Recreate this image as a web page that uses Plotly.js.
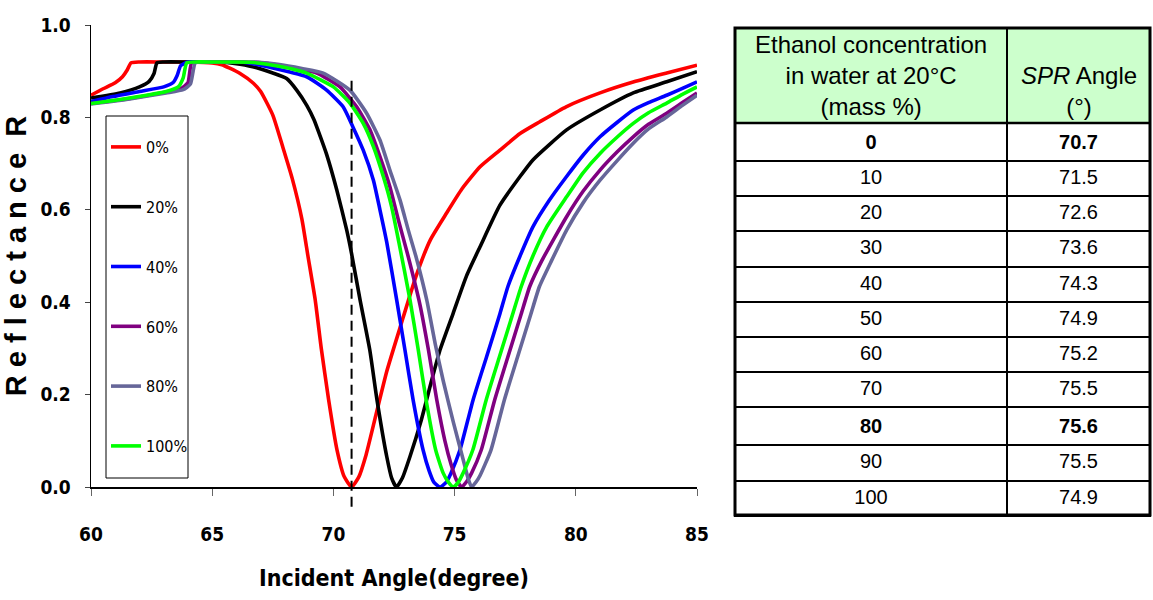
<!DOCTYPE html>
<html>
<head>
<meta charset="utf-8">
<script src="https://cdn.plot.ly/plotly-3.0.1.min.js"></script>
<style>
  html, body { margin: 0; padding: 0; background: #ffffff; }
  #chart { width: 1153px; height: 600px; }
</style>
</head>
<body>
<div id="chart"></div>
<script>
// SPR reflectance curves for ethanol/water mixtures, incident angle in degrees
const angle0 = [60, 60.5, 61.0, 61.3, 61.5, 61.65, 62.0, 63.0, 64.0, 65.0, 65.4, 65.7, 66.15, 66.7, 67.0, 67.5, 67.9, 68.3, 68.7, 68.95, 69.25, 69.5, 69.8, 70.15, 70.45, 70.75, 71.05, 71.35, 71.75, 72.2, 72.75, 73.4, 74.0, 74.67, 75.3, 76.05, 76.87, 77.7, 78.5, 79.6, 81.0, 82.4, 83.75, 85.0];
const refl0  = [0.848, 0.862, 0.875, 0.888, 0.903, 0.918, 0.920, 0.920, 0.920, 0.918, 0.914, 0.907, 0.895, 0.874, 0.856, 0.805, 0.738, 0.668, 0.580, 0.500, 0.405, 0.300, 0.190, 0.080, 0.022, 0.000, 0.022, 0.070, 0.155, 0.250, 0.345, 0.455, 0.535, 0.593, 0.645, 0.693, 0.729, 0.765, 0.790, 0.823, 0.853, 0.877, 0.896, 0.913];

const angle20 = [60, 61.2, 62.0, 62.4, 62.6, 62.72, 63.0, 64.0, 65.0, 65.6, 66.15, 66.8, 67.5, 68.07, 68.5, 68.9, 69.2, 69.45, 69.72, 70.14, 70.55, 70.75, 71.1, 71.5, 71.8, 72.2, 72.4, 72.6, 72.85, 73.16, 73.6, 74.06, 74.4, 74.94, 75.5, 76.05, 76.87, 77.7, 78.23, 79.62, 81.0, 82.37, 83.75, 85.0];
const refl20  = [0.842, 0.853, 0.866, 0.878, 0.895, 0.918, 0.920, 0.920, 0.920, 0.919, 0.915, 0.908, 0.896, 0.884, 0.858, 0.826, 0.795, 0.760, 0.720, 0.643, 0.556, 0.505, 0.405, 0.297, 0.188, 0.066, 0.020, 0.000, 0.020, 0.066, 0.140, 0.232, 0.297, 0.376, 0.458, 0.520, 0.610, 0.672, 0.708, 0.773, 0.816, 0.853, 0.877, 0.899];

const angle40 = [60, 60.9, 62.0, 63.0, 63.4, 63.55, 63.7, 64.0, 65.0, 66.0, 66.5, 67.0, 67.5, 68.2, 68.9, 69.72, 70.4, 70.8, 71.23, 71.65, 71.92, 72.2, 72.61, 72.95, 73.29, 73.7, 73.95, 74.15, 74.4, 74.65, 74.85, 75.22, 75.76, 76.32, 76.87, 77.2, 77.7, 78.23, 78.9, 79.62, 80.3, 81.0, 81.7, 82.37, 83.0, 83.75, 84.4, 85.0];
const refl40  = [0.834, 0.845, 0.856, 0.866, 0.876, 0.890, 0.912, 0.920, 0.920, 0.920, 0.918, 0.913, 0.907, 0.898, 0.888, 0.859, 0.823, 0.780, 0.729, 0.664, 0.600, 0.530, 0.405, 0.297, 0.188, 0.080, 0.035, 0.010, 0.000, 0.010, 0.030, 0.080, 0.188, 0.282, 0.375, 0.434, 0.500, 0.563, 0.620, 0.672, 0.718, 0.758, 0.789, 0.816, 0.832, 0.848, 0.863, 0.877];

const angle60 = [60, 61.6, 63.1, 63.7, 64.0, 64.15, 64.5, 65.0, 66.0, 66.8, 67.5, 68.5, 69.31, 70.27, 70.96, 71.51, 71.92, 72.33, 72.68, 73.08, 73.57, 73.92, 74.26, 74.6, 74.85, 75.08, 75.29, 75.5, 75.7, 76.1, 76.65, 77.2, 77.75, 78.1, 78.6, 79.62, 80.3, 81.0, 81.7, 82.37, 83.0, 83.75, 84.4, 85.0];
const refl60  = [0.830, 0.841, 0.855, 0.862, 0.875, 0.918, 0.920, 0.920, 0.920, 0.919, 0.915, 0.905, 0.896, 0.866, 0.823, 0.773, 0.715, 0.650, 0.578, 0.500, 0.395, 0.297, 0.190, 0.100, 0.050, 0.015, 0.000, 0.012, 0.030, 0.080, 0.188, 0.282, 0.375, 0.434, 0.490, 0.585, 0.640, 0.686, 0.725, 0.758, 0.785, 0.809, 0.832, 0.853];

const angle80 = [60, 61.6, 63.1, 63.8, 64.1, 64.3, 64.6, 65.0, 66.0, 66.9, 67.7, 68.7, 69.58, 70.68, 71.37, 71.92, 72.33, 72.75, 73.09, 73.4, 73.85, 74.2, 74.53, 74.95, 75.36, 75.55, 75.7, 75.9, 76.05, 76.5, 77.05, 77.6, 78.15, 78.5, 79.0, 79.62, 80.3, 81.0, 81.7, 82.37, 83.0, 83.75, 84.4, 85.0];
const refl80  = [0.829, 0.840, 0.853, 0.860, 0.872, 0.918, 0.920, 0.920, 0.920, 0.919, 0.915, 0.906, 0.896, 0.859, 0.809, 0.751, 0.686, 0.621, 0.556, 0.500, 0.405, 0.310, 0.230, 0.140, 0.058, 0.020, 0.000, 0.012, 0.025, 0.080, 0.188, 0.282, 0.375, 0.434, 0.490, 0.556, 0.615, 0.664, 0.706, 0.744, 0.775, 0.801, 0.826, 0.848];

const angle100 = [60, 61.6, 63.1, 63.6, 63.8, 63.95, 64.3, 65.0, 66.0, 66.7, 67.5, 68.3, 68.9, 70.0, 70.68, 71.23, 71.65, 72.06, 72.4, 72.7, 73.16, 73.5, 73.85, 74.22, 74.53, 74.75, 74.95, 75.15, 75.35, 75.75, 76.3, 76.85, 77.4, 77.75, 78.23, 78.8, 79.62, 80.3, 81.0, 81.7, 82.37, 83.0, 83.75, 84.4, 85.0];
const refl100  = [0.830, 0.842, 0.856, 0.866, 0.885, 0.918, 0.920, 0.920, 0.920, 0.919, 0.913, 0.905, 0.896, 0.866, 0.831, 0.787, 0.737, 0.672, 0.607, 0.530, 0.405, 0.297, 0.180, 0.080, 0.030, 0.010, 0.000, 0.010, 0.030, 0.080, 0.188, 0.282, 0.375, 0.434, 0.500, 0.563, 0.628, 0.680, 0.722, 0.757, 0.787, 0.810, 0.831, 0.850, 0.866];

const seriesNames  = ['0%', '20%', '40%', '60%', '80%', '100%'];
const seriesColors = ['#ff0000', '#000000', '#0000ff', '#800080', '#666699', '#00ff00'];
const seriesAngles = [angle0, angle20, angle40, angle60, angle80, angle100];
const seriesRefl   = [refl0, refl20, refl40, refl60, refl80, refl100];

// SPR angle of pure water, marked with a dashed guide
const waterDipAngle = 70.75;

const angleTicks = [60, 65, 70, 75, 80, 85];
const reflTicks  = [0, 0.2, 0.4, 0.6, 0.8, 1.0];

// Table: SPR angle vs ethanol concentration
const concentration = [0, 10, 20, 30, 40, 50, 60, 70, 80, 90, 100];
const sprAngle = ['70.7', '71.5', '72.6', '73.6', '74.3', '74.9', '75.2', '75.5', '75.6', '75.5', '74.9'];
const boldRows = [0, 8];
const headerConc  = 'Ethanol concentration<br>in water at 20°C<br>(mass %)';
const headerAngle = '<i>SPR</i> Angle<br>(°)';

const W = 1153, H = 600;
const px = v => v / W;
const py = v => 1 - v / H;

// table frame (page pixels)
const tblLeft = 735, tblRight = 1150, tblTop = 28, tblHeadBottom = 123, tblBottom = 515, tblSplit = 1007;

const condensed = 'DejaVu Sans Condensed, Liberation Sans Narrow, Arial Narrow, sans-serif';
const arialLike = 'Liberation Sans, Arial, Helvetica, sans-serif';

const traces = seriesNames.map((name, i) => ({
  type: 'scatter',
  mode: 'lines',
  name: name,
  legendgroup: 'g' + i,
  x: seriesAngles[i],
  y: seriesRefl[i],
  line: { color: seriesColors[i], width: 3.6, shape: 'spline', smoothing: 0.5 },
  hoverinfo: 'x+y+name'
}));

const cellText = [
  concentration.map((c, r) => boldRows.includes(r) ? '<b>' + c + '</b>' : String(c)),
  sprAngle.map((a, r) => boldRows.includes(r) ? '<b>' + a + '</b>' : a)
];

// header cells carry the fill and borders; their wrapped captions are laid over as annotations
traces.push({
  type: 'table',
  domain: { x: [px(tblLeft), px(tblRight)], y: [0.0, py(tblTop)] },
  columnwidth: [tblSplit - tblLeft, tblRight - tblSplit],
  header: {
    values: ['', ''],
    height: tblHeadBottom - tblTop,
    fill: { color: '#ccffcc' },
    line: { color: '#000000', width: 2 },
    font: { family: arialLike, size: 20, color: '#000000' }
  },
  cells: {
    values: cellText,
    align: 'center',
    height: 35.2,
    fill: { color: '#ffffff' },
    line: { color: '#000000', width: 2 },
    font: { family: arialLike, size: 20, color: '#000000' }
  }
});

const layout = {
  width: W,
  height: H,
  margin: { l: 0, r: 0, t: 0, b: 0 },
  paper_bgcolor: '#ffffff',
  plot_bgcolor: '#ffffff',
  showlegend: true,
  legend: {
    x: px(106), y: py(130), xanchor: 'left', yanchor: 'top',
    bgcolor: 'rgba(0,0,0,0)',
    borderwidth: 0,
    font: { family: condensed, size: 16, color: '#000000' },
    tracegroupgap: 36,
    itemwidth: 30
  },
  xaxis: {
    domain: [px(91), px(697)],
    range: [60, 85],
    tickvals: angleTicks,
    ticktext: angleTicks.map(String),
    ticks: 'outside',
    ticklen: 7,
    tickwidth: 1,
    tickcolor: '#666666',
    showline: true,
    linecolor: '#000000',
    linewidth: 1.5,
    showgrid: false,
    zeroline: false,
    ticklabelstandoff: 23,
    tickfont: { family: condensed, size: 19, color: '#000000', weight: 'bold' },
    title: {
      text: 'Incident Angle(degree)',
      standoff: 25,
      font: { family: condensed, size: 23, color: '#000000', weight: 'bold' }
    }
  },
  yaxis: {
    domain: [py(487), py(25)],
    range: [0, 1],
    tickvals: reflTicks,
    ticktext: reflTicks.map(v => v.toFixed(1)),
    ticks: 'outside',
    ticklen: 5,
    tickwidth: 1,
    tickcolor: '#444444',
    showline: true,
    linecolor: '#000000',
    linewidth: 1.5,
    showgrid: false,
    zeroline: false,
    ticklabelstandoff: 10,
    tickfont: { family: condensed, size: 19, color: '#000000', weight: 'bold' },
    title: {
      text: 'R e f l e c t a n c e \u00a0R',
      standoff: 8,
      font: { family: arialLike, size: 29, color: '#000000', weight: 'bold' }
    }
  },
  annotations: [
    {
      xref: 'paper', yref: 'paper',
      x: px((tblLeft + tblSplit) / 2), y: py((tblTop + tblHeadBottom) / 2),
      xanchor: 'center', yanchor: 'middle', align: 'center',
      text: headerConc, showarrow: false,
      font: { family: arialLike, size: 24, color: '#000000' }
    },
    {
      xref: 'paper', yref: 'paper',
      x: px((tblSplit + tblRight) / 2), y: py(91),
      xanchor: 'center', yanchor: 'middle', align: 'center',
      text: headerAngle, showarrow: false,
      font: { family: arialLike, size: 24, color: '#000000' }
    }
  ],
  shapes: [
    {
      type: 'line', xref: 'x', yref: 'y domain',
      x0: waterDipAngle, x1: waterDipAngle, y0: -0.043, y1: 0.88,
      line: { color: '#000000', width: 2, dash: '10px,6px' },
      layer: 'above'
    },
    // legend frame
    {
      type: 'rect', xref: 'paper', yref: 'paper',
      x0: px(106), x1: px(188), y0: py(478), y1: py(116),
      line: { color: '#000000', width: 1 },
      fillcolor: 'rgba(0,0,0,0)',
      layer: 'above'
    },
    // heavier rule under the header and around the whole table
    {
      type: 'line', xref: 'paper', yref: 'paper',
      x0: px(tblLeft), x1: px(tblRight), y0: py(tblHeadBottom), y1: py(tblHeadBottom),
      line: { color: '#000000', width: 2.5 },
      layer: 'above'
    },
    {
      type: 'rect', xref: 'paper', yref: 'paper',
      x0: px(tblLeft), x1: px(tblRight), y0: py(tblBottom), y1: py(tblTop),
      line: { color: '#000000', width: 3 },
      fillcolor: 'rgba(0,0,0,0)',
      layer: 'above'
    }
  ]
};

Plotly.newPlot('chart', traces, layout, { displayModeBar: false, staticPlot: true });
</script>
</body>
</html>
